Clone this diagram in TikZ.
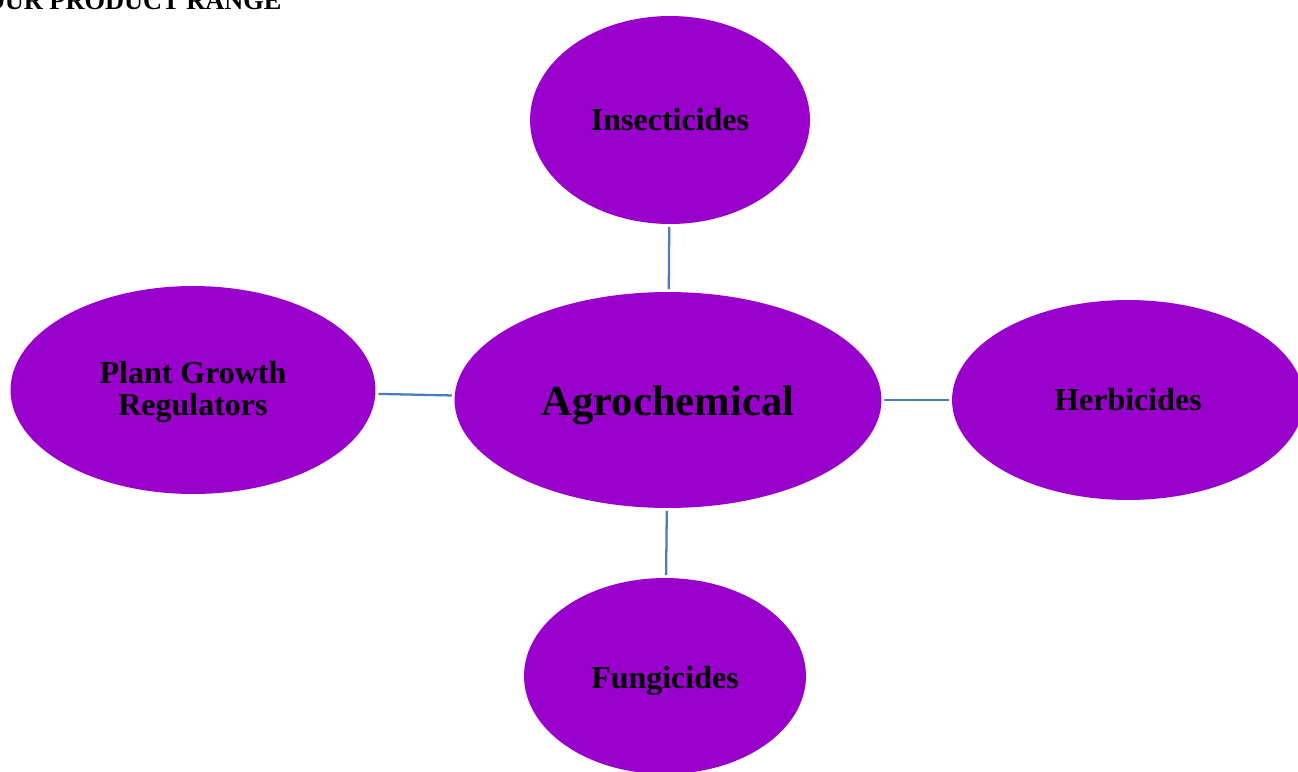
\documentclass[tikz,border=0pt]{standalone}
\usepackage{fontspec}
\setmainfont{Liberation Serif}
\usetikzlibrary{shapes.geometric}
\definecolor{bubblepurple}{HTML}{9900CC}
\definecolor{linkblue}{HTML}{4A7EBB}
\newcommand{\lowertext}[2]{\raisebox{-#1}[\height][\depth]{#2}}
\tikzset{
  bubble/.style={ellipse, fill=bubblepurple, inner sep=0pt, align=center,
    font=\bfseries\fontsize{18.2}{18.5}\selectfont},
  link/.style={linkblue, line width=1.3pt, shorten <=1.5pt, shorten >=1.5pt}
}
\begin{document}
\begin{tikzpicture}[x=0.02cm,y=-0.02cm]
        \useasboundingbox (0,0) rectangle (1298,771);
        % heading, cut at the top edge
        \node[anchor=base west, inner sep=0pt, font=\bfseries\fontsize{15}{15}\selectfont] (title) at (-16,9) {OUR PRODUCT RANGE};

        % centre
        \node[bubble, minimum width=8.54cm, minimum height=4.32cm, font=\bfseries\fontsize{24.3}{24}\selectfont] (agro) at (668,400) {\lowertext{2.8pt}{Agrochemical}};

        % outer ring
        \node[bubble, minimum width=5.6cm, minimum height=4.16cm] (insect) at (670,120) {Insecticides};
        \node[bubble, minimum width=7.04cm, minimum height=4.0cm] (herb) at (1128,400) {Herbicides};
        \node[bubble, minimum width=5.64cm, minimum height=3.92cm] (fungi) at (665,676) {\lowertext{2.8pt}{Fungicides}};
        \node[bubble, minimum width=7.3cm, minimum height=4.16cm] (pgr) at (193,390) {\lowertext{1.1pt}{Plant Growth}\\\lowertext{1.1pt}{Regulators}};

        % links
        \draw[link] (agro) -- (insect);
        \draw[link] (agro) -- (herb);
        \draw[link] (agro) -- (fungi);
        \draw[link] (agro) -- (pgr);
\end{tikzpicture}
\end{document}
